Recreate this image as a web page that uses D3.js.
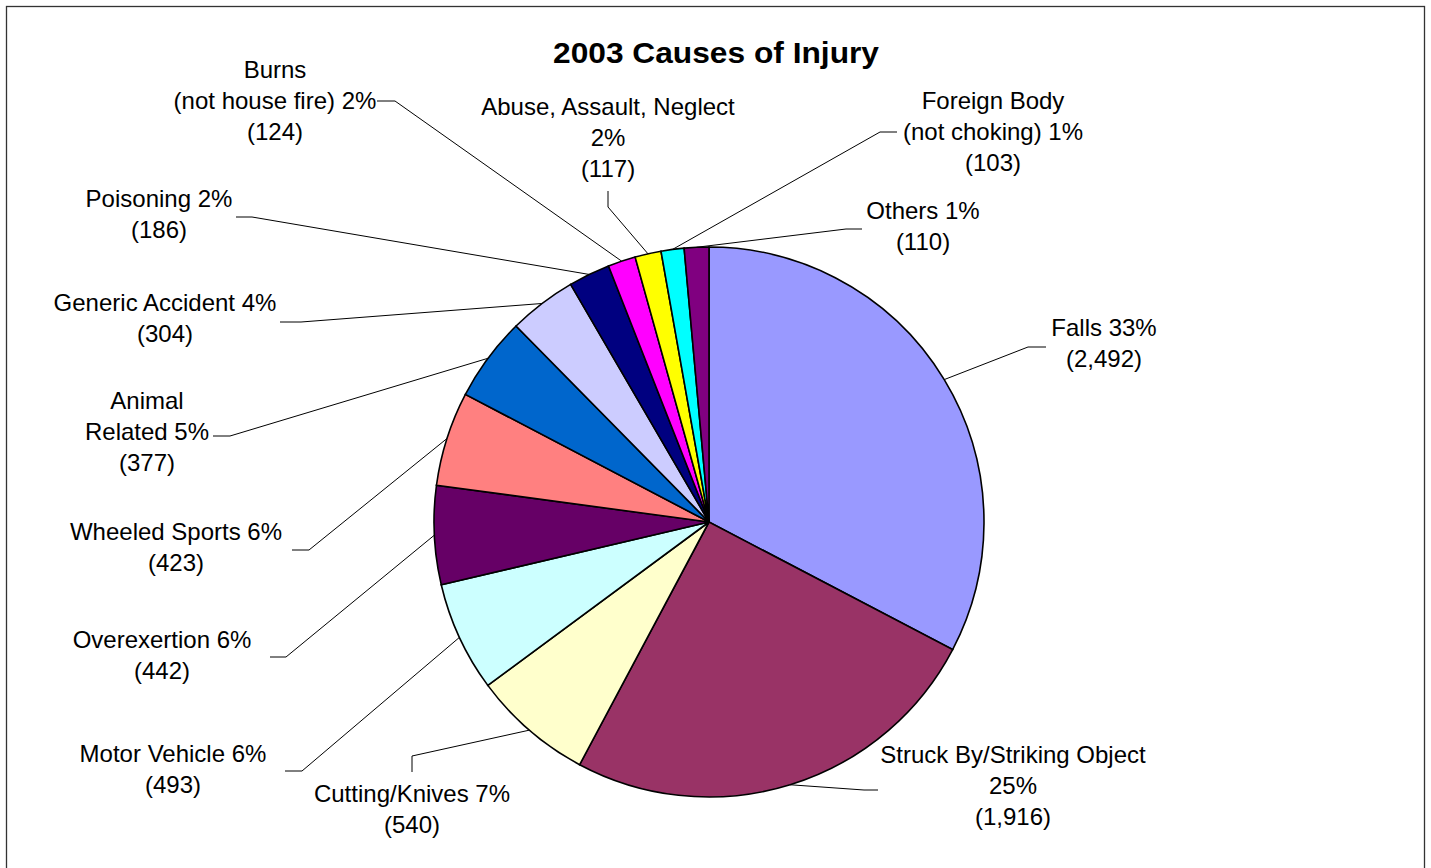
<!DOCTYPE html>
<html>
<head>
<meta charset="utf-8">
<script src="https://cdn.jsdelivr.net/npm/d3@7"></script>
<style>
  body { margin: 0; background: #fff; }
  svg text { font-family: Arial, "Liberation Sans", sans-serif; fill: #000; }
</style>
</head>
<body>
<svg id="chart" width="1431" height="868"></svg>
<script>
// categories ("|" = line break in the label, percent goes on the last line)
var categories = ["Falls", "Struck By/Striking Object|", "Cutting/Knives", "Motor Vehicle",
  "Overexertion", "Wheeled Sports", "Animal|Related", "Generic Accident", "Poisoning",
  "Burns|(not house fire)", "Abuse, Assault, Neglect|", "Foreign Body|(not choking)", "Others"];
var counts = [2492, 1916, 540, 493, 442, 423, 377, 304, 186, 124, 117, 103, 110];
var colors = ["#9999FF", "#993366", "#FFFFCC", "#CCFFFF", "#660066", "#FF8080", "#0066CC",
  "#CCCCFF", "#000080", "#FF00FF", "#FFFF00", "#00FFFF", "#800080"];

var svg = d3.select("#chart");
var cx = 709, cy = 522, r = 275;

// chart border (runs off the bottom of the page)
svg.append("rect")
  .attr("x", 6.5).attr("y", 6.5)
  .attr("width", 1418).attr("height", 880)
  .attr("fill", "none").attr("stroke", "#333").attr("stroke-width", 1.3);

svg.append("text")
  .attr("x", 716).attr("y", 63)
  .attr("text-anchor", "middle")
  .style("font-size", "30px").style("font-weight", "bold")
  .attr("textLength", 326).attr("lengthAdjust", "spacingAndGlyphs")
  .text("2003 Causes of Injury");

var total = d3.sum(counts);
var pie = d3.pie().sort(null).value(function (d) { return d; });
var arcs = pie(counts);
var arc = d3.arc().innerRadius(0).outerRadius(r);

var g = svg.append("g").attr("transform", "translate(" + cx + "," + cy + ")");
g.selectAll("path.slice")
  .data(arcs)
  .enter().append("path")
  .attr("class", "slice")
  .attr("d", arc)
  .attr("fill", function (d, i) { return colors[i]; })
  .attr("stroke", "#000")
  .attr("stroke-width", 1.6);

// label placement: text centre x, centre y of first line, leader stub start and elbow
var labelPos = [
  {x: 1104, y: 328, stub: [[1046, 347], [1028, 347]]},
  {x: 1013, y: 755, stub: [[878, 790], [864, 790]]},
  {x: 412, y: 794, stub: [[412, 772], [412, 756]]},
  {x: 173, y: 754, stub: [[285, 771], [302, 771]]},
  {x: 162, y: 640, stub: [[270, 657], [286, 657]]},
  {x: 176, y: 532, stub: [[292, 550], [309, 550]]},
  {x: 147, y: 401, stub: [[213, 436], [230, 436]]},
  {x: 165, y: 303, stub: [[280, 322], [301, 322]]},
  {x: 159, y: 199, stub: [[236, 217], [252, 217]]},
  {x: 275, y: 70, stub: [[377, 101], [395, 101]]},
  {x: 608, y: 107, stub: [[608, 191], [608, 207]]},
  {x: 993, y: 101, stub: [[897, 132], [880, 132]]},
  {x: 923, y: 211, stub: [[862, 229], [846, 229]]}
];

var lineH = 31;
var fmt = d3.format(",");

arcs.forEach(function (a, i) {
  var mid = (a.startAngle + a.endAngle) / 2;
  var ex = cx + r * Math.sin(mid), ey = cy - r * Math.cos(mid);
  var p = labelPos[i];
  var pts = p.stub.concat([[ex, ey]]);
  svg.append("path")
    .attr("d", d3.line()(pts))
    .attr("fill", "none")
    .attr("stroke", "#000")
    .attr("stroke-width", 1);

  var lines = categories[i].split("|");
  var pct = Math.round(counts[i] / total * 100) + "%";
  lines[lines.length - 1] = (lines[lines.length - 1] + " " + pct).trim();
  lines.push("(" + fmt(counts[i]) + ")");

  var t = svg.append("text")
    .attr("text-anchor", "middle")
    .style("font-size", "24px");
  lines.forEach(function (s, k) {
    t.append("tspan")
      .attr("x", p.x)
      .attr("y", p.y + k * lineH + 8)
      .text(s);
  });
});
</script>
</body>
</html>
